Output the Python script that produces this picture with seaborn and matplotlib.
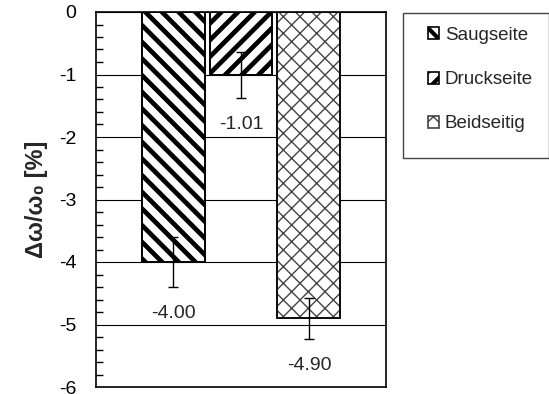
import numpy as np
import pandas as pd
import matplotlib
matplotlib.use("Agg")
import matplotlib.pyplot as plt
import seaborn as sns
from matplotlib.patches import Patch, Rectangle
from matplotlib.ticker import MultipleLocator, FixedLocator

# ---- data ----
series = ["Saugseite", "Druckseite", "Beidseitig"]
values = [-4.00, -1.01, -4.90]
errors = [0.40, 0.37, 0.33]
value_labels = ["-4.00", "-1.01", "-4.90"]
yticks = [0, -1, -2, -3, -4, -5, -6]
ylabel = "Δω/ω₀ [%]"

sns.set_style("white")
plt.rcParams["font.family"] = ["Liberation Sans", "DejaVu Sans"]
plt.rcParams["axes.unicode_minus"] = False
plt.rcParams["hatch.linewidth"] = 3.4

W, H = 549, 394
fig = plt.figure(figsize=(W / 100, H / 100), dpi=100)
ax = fig.add_axes([96 / W, 1 - 387 / H, 290 / W, (387 - 12) / H])

df = pd.DataFrame({"cat": ["g"] * len(series), "series": series, "value": values})
sns.barplot(data=df, x="cat", y="value", hue="series", hue_order=series,
            palette=["white"] * 3, width=0.703, gap=0.074, errorbar=None,
            legend=False, edgecolor="black", linewidth=1.2, ax=ax, zorder=2)

bars = [p for p in ax.patches if isinstance(p, Rectangle) and p.get_width() > 0][:3]
hatches = ["\\\\", "//", "xx"]
hatch_lw = [3.4, 3.4, 1.0]
hatch_col = ["black", "black", "#444444"]


def set_hlw(p, lw):
    try:
        p.set_hatch_linewidth(lw)
    except Exception:
        p._hatch_linewidth = lw


centers = []
for b, h, lw, hc in zip(bars, hatches, hatch_lw, hatch_col):
    b.set_hatch(h)
    b.set_edgecolor(hc)
    set_hlw(b, lw)
    # black outline on top
    ax.add_patch(Rectangle((b.get_x(), b.get_y()), b.get_width(), b.get_height(),
                           fill=False, edgecolor="black", linewidth=1.2, zorder=2.5))
    centers.append(b.get_x() + b.get_width() / 2)

ax.errorbar(centers, values, yerr=errors, fmt="none", ecolor="black",
            elinewidth=1.0, capsize=3.5, capthick=1.0, zorder=3)
for c, v, e, t in zip(centers, values, errors, value_labels):
    ax.text(c, v - e - 0.42, t, ha="center", va="center", fontsize=14, zorder=4)

ax.set_ylim(-6, 0)
ax.set_xlim(-0.5, 0.5)
ax.yaxis.set_major_locator(FixedLocator(yticks))
ax.set_yticklabels([str(t) for t in yticks])
ax.yaxis.set_minor_locator(MultipleLocator(0.2))
ax.tick_params(axis="y", which="major", direction="in", length=0, pad=14,
               labelsize=14, labelcolor="black")
ax.tick_params(axis="y", which="minor", direction="in", length=5, width=1,
               color="black", left=True)
ax.tick_params(axis="x", bottom=False, labelbottom=False)
ax.set_xlabel("")
ax.set_ylabel(ylabel, fontsize=17, fontweight="bold", labelpad=8)
ax.yaxis.grid(True, color="black", linewidth=0.8)
ax.set_axisbelow(True)
for s in ax.spines.values():
    s.set_color("black")
    s.set_linewidth(1.2)
    s.set_visible(True)

# legend
fig.patches.append(Rectangle((403 / W, 1 - 158 / H), 146 / W, 145 / H,
                             transform=fig.transFigure, fill=False,
                             edgecolor="#444444", linewidth=1.0))
handles = []
for h, hc in zip(hatches, ["black", "black", "#444444"]):
    hp = Patch(facecolor="white", edgecolor=hc, hatch=h, linewidth=1.2)
    handles.append(hp)
leg = fig.legend(handles, series, loc="upper left",
                 bbox_to_anchor=(428 / W, 1 - 27 / H), frameon=False, fontsize=13.5,
                 handlelength=0.6, handleheight=0.6, handletextpad=0.3,
                 labelspacing=1.45, borderpad=0, borderaxespad=0)
for hp, lw in zip(leg.legend_handles, [3.0, 3.0, 1.0]):
    set_hlw(hp, lw)

fig.savefig("out.png", dpi=100)
